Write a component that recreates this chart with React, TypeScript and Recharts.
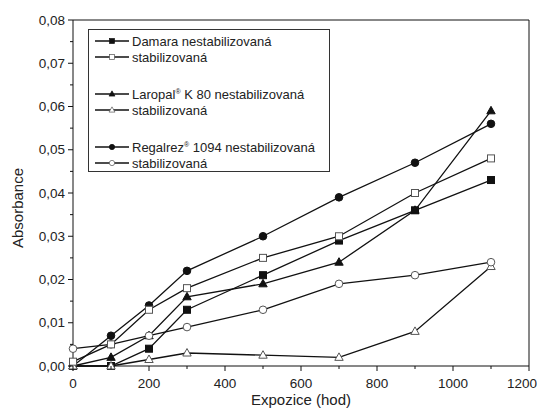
import { LineChart, Line, XAxis, YAxis, ReferenceLine } from 'recharts';

const hours = [0, 100, 200, 300, 500, 700, 900, 1100];
const damaraN = [0, 0, 0.004, 0.013, 0.021, 0.029, 0.036, 0.043];
const damaraS = [0.001, 0.005, 0.013, 0.018, 0.025, 0.03, 0.04, 0.048];
const laropalN = [0, 0.002, 0.007, 0.016, 0.019, 0.024, 0.036, 0.059];
const laropalS = [0, 0, 0.0015, 0.003, 0.0025, 0.002, 0.008, 0.023];
const regalrezN = [0, 0.007, 0.014, 0.022, 0.03, 0.039, 0.047, 0.056];
const regalrezS = [0.004, 0.005, 0.007, 0.009, 0.013, 0.019, 0.021, 0.024];

const xTicks = [0, 100, 200, 300, 400, 500, 600, 700, 800, 900, 1000, 1100, 1200];
const yTicks = [0, 0.005, 0.01, 0.015, 0.02, 0.025, 0.03, 0.035, 0.04, 0.045, 0.05, 0.055, 0.06, 0.065, 0.07, 0.075, 0.08];

const data = hours.map((t, i) => ({
  t,
  damaraN: damaraN[i],
  damaraS: damaraS[i],
  laropalN: laropalN[i],
  laropalS: laropalS[i],
  regalrezN: regalrezN[i],
  regalrezS: regalrezS[i],
}));

type Shape = 'square' | 'triangle' | 'circle';

const Mark = ({ cx, cy, shape, filled }: { cx: number; cy: number; shape: Shape; filled: boolean }) => {
  const fill = filled ? '#111' : '#fff';
  const stroke = filled ? '#111' : '#555';
  if (shape === 'square') {
    return <rect x={cx - 3.5} y={cy - 3.5} width={7} height={7} fill={fill} stroke={stroke} strokeWidth={1} />;
  }
  if (shape === 'triangle') {
    return (
      <polygon
        points={`${cx},${cy - 4.5} ${cx + 4.2},${cy + 3} ${cx - 4.2},${cy + 3}`}
        fill={fill}
        stroke={stroke}
        strokeWidth={1}
      />
    );
  }
  return <circle cx={cx} cy={cy} r={3.8} fill={fill} stroke={stroke} strokeWidth={1} />;
};

const dotFor = (shape: Shape, filled: boolean) => (props: any) => (
  <g key={`d-${shape}-${filled}-${props.index}`}>
    <Mark cx={props.cx} cy={props.cy} shape={shape} filled={filled} />
  </g>
);

const fmtY = (v: number) => v.toFixed(2).replace('.', ',');

const YTick = ({ x, y, payload }: any) => {
  const v = payload.value as number;
  const major = Math.round(v * 1000) % 10 === 0;
  return (
    <g>
      <line x1={x - (major ? 5 : 3)} x2={x} y1={y} y2={y} stroke="#111" />
      {major && (
        <text x={x - 8} y={y} dy="0.35em" textAnchor="end" fontSize={13.5} fill="#222" fontFamily="Liberation Sans, Arial, sans-serif">
          {fmtY(v)}
        </text>
      )}
    </g>
  );
};

const XTick = ({ x, y, payload }: any) => {
  const v = payload.value as number;
  const major = v % 200 === 0;
  const last = v === 1200;
  return (
    <g>
      <line x1={x} x2={x} y1={y} y2={y + (major ? 5 : 3)} stroke="#111" />
      {major && (
        <text
          x={last ? x + 8 : x}
          y={y + 17}
          dy="0.35em"
          textAnchor={last ? 'end' : 'middle'}
          fontSize={13.5}
          fill="#222"
          fontFamily="Liberation Sans, Arial, sans-serif"
        >
          {v}
        </text>
      )}
    </g>
  );
};

const series: { key: string; shape: Shape; filled: boolean }[] = [
  { key: 'damaraN', shape: 'square', filled: true },
  { key: 'laropalN', shape: 'triangle', filled: true },
  { key: 'regalrezN', shape: 'circle', filled: true },
  { key: 'laropalS', shape: 'triangle', filled: false },
  { key: 'regalrezS', shape: 'circle', filled: false },
  { key: 'damaraS', shape: 'square', filled: false },
];

const legendRows: { top: number; shape: Shape; filled: boolean; label: React.ReactNode }[] = [
  { top: 11, shape: 'square', filled: true, label: 'Damara nestabilizovaná' },
  { top: 27, shape: 'square', filled: false, label: 'stabilizovaná' },
  { top: 64, shape: 'triangle', filled: true, label: <>Laropal<sup style={{ fontSize: 7 }}>®</sup> K 80 nestabilizovaná</> },
  { top: 80, shape: 'triangle', filled: false, label: 'stabilizovaná' },
  { top: 117, shape: 'circle', filled: true, label: <>Regalrez<sup style={{ fontSize: 7 }}>®</sup> 1094 nestabilizovaná</> },
  { top: 133, shape: 'circle', filled: false, label: 'stabilizovaná' },
];

const LegendSample = ({ shape, filled }: { shape: Shape; filled: boolean }) => (
  <svg width={34} height={12} style={{ display: 'block' }}>
    <line x1={0} x2={34} y1={6} y2={6} stroke="#111" strokeWidth={1.3} />
    <g transform="translate(17,6) scale(0.7) translate(-17,-6)">
      <Mark cx={17} cy={6} shape={shape} filled={filled} />
    </g>
  </svg>
);

export default function App() {
  return (
    <div style={{ position: 'relative', width: 537, height: 400, fontFamily: 'Liberation Sans, Arial, sans-serif' }}>
      <style>{'html, body { overflow: hidden; }'}</style>
      <LineChart
        width={537}
        height={400}
        data={data}
        margin={{ top: 12, right: 16, left: 0, bottom: 0 }}
        style={{ overflow: 'visible' }}
      >
        <XAxis
          dataKey="t"
          type="number"
          domain={[0, 1200]}
          ticks={xTicks}
          interval={0}
          tickLine={false}
          tickSize={0}
          tickMargin={0}
          height={42}
          tick={<XTick />}
          axisLine={{ stroke: '#111' }}
        />
        <YAxis
          type="number"
          domain={[0, 0.08]}
          ticks={yTicks}
          interval={0}
          tickLine={false}
          tickSize={0}
          tickMargin={0}
          width={65}
          tick={<YTick />}
          axisLine={{ stroke: '#111' }}
        />
        <ReferenceLine y={0.08} stroke="#111" />
        <ReferenceLine x={1200} stroke="#111" />
        {series.map((s) => (
          <Line
            key={s.key}
            dataKey={s.key}
            stroke="#111"
            strokeWidth={1.3}
            dot={dotFor(s.shape, s.filled)}
            activeDot={false}
            isAnimationActive={false}
          />
        ))}
      </LineChart>
      <div
        style={{
          position: 'absolute',
          left: 10,
          top: 200,
          transform: 'translate(-50%, -50%) rotate(-90deg)',
          fontSize: 15,
          color: '#222',
          whiteSpace: 'nowrap',
          lineHeight: '16px',
        }}
      >
        Absorbance
      </div>
      <div
        style={{
          position: 'absolute',
          left: 293,
          top: 392,
          transform: 'translate(-50%, -50%)',
          fontSize: 15,
          color: '#222',
          whiteSpace: 'nowrap',
          lineHeight: '16px',
        }}
      >
        Expozice (hod)
      </div>
      <div
        style={{
          position: 'absolute',
          left: 80,
          top: 21,
          width: 240,
          height: 141,
          border: '1.5px solid #333',
          background: '#fff',
        }}
      >
        {legendRows.map((r, i) => (
          <div
            key={i}
            style={{
              position: 'absolute',
              left: 6,
              top: r.top - 8,
              height: 16,
              display: 'flex',
              alignItems: 'center',
              fontSize: 13,
              color: '#222',
              whiteSpace: 'nowrap',
            }}
          >
            <LegendSample shape={r.shape} filled={r.filled} />
            <span style={{ marginLeft: 3 }}>{r.label}</span>
          </div>
        ))}
      </div>
    </div>
  );
}
